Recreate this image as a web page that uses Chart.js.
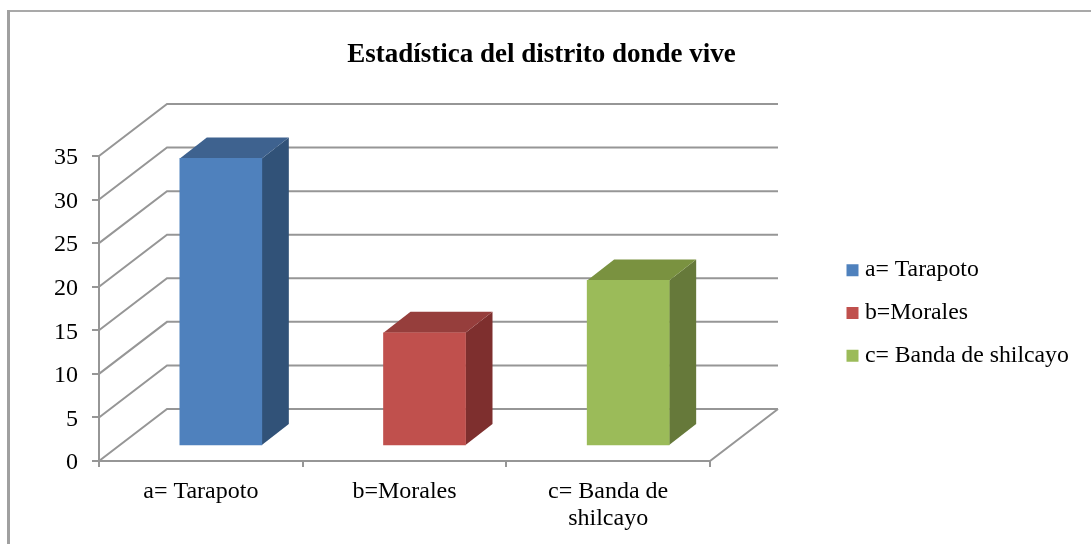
<!DOCTYPE html>
<html>
<head>
<meta charset="utf-8">
<style>
html, body { margin: 0; padding: 0; background: #fff; }
#wrap { position: relative; width: 1091px; height: 544px; }
</style>
<script src="https://cdn.jsdelivr.net/npm/chart.js@4"></script>
</head>
<body>
<div id="wrap"><canvas id="chart" width="1091" height="544"></canvas></div>
<script>
const titleText = "Estadística del distrito donde vive";
const categories = [["a= Tarapoto"], ["b=Morales"], ["c= Banda de", "shilcayo"]];
const legendLabels = ["a= Tarapoto", "b=Morales", "c= Banda de shilcayo"];
const values = [33, 13, 19];
const yTicks = [0, 5, 10, 15, 20, 25, 30, 35];
const frontColors = ["#4F81BD", "#C0504D", "#9BBB59"];
const topColors = ["#3E628F", "#963E3C", "#7A9240"];
const sideColors = ["#315278", "#7E2F2E", "#66793A"];

const gridColor = "#969696";
const serif = "'Liberation Serif', serif";

// pseudo 3d: wall depth and how far the bars sit inside the floor
const wallDx = 68, wallDy = -52;
const barDx = 20, barDy = -15;
const sideDx = 27, sideDy = -21;

const wallPlugin = {
    id: "wall",
    afterLayout(chart) {
        // title and legend do not follow the usual box placement here
        const t = chart.titleBlock;
        t.left = 0; t.right = 1083; t.top = 22; t.bottom = 73;
        const l = chart.legend;
        l.left = 833; l.right = 1091; l.top = 226; l.bottom = 400;
    },
    beforeDatasetsDraw(chart) {
        const ctx = chart.ctx;
        const y = chart.scales.y, x = chart.scales.x;
        const left = x.left, right = x.right;
        ctx.save();
        // frame, only top and left show in the picture
        ctx.strokeStyle = "#8C8C8C";
        ctx.lineWidth = 1.5;
        ctx.beginPath();
        ctx.moveTo(8, 11);
        ctx.lineTo(1091, 11);
        ctx.stroke();
        ctx.strokeStyle = "#A0A0A0";
        ctx.lineWidth = 3;
        ctx.beginPath();
        ctx.moveTo(8.5, 10);
        ctx.lineTo(8.5, 544);
        ctx.stroke();
        ctx.strokeStyle = gridColor;
        ctx.lineWidth = 2;
        yTicks.forEach(v => {
            const py = y.getPixelForValue(v);
            ctx.beginPath();
            ctx.moveTo(left, py);
            ctx.lineTo(left + wallDx, py + wallDy);
            ctx.lineTo(right + wallDx, py + wallDy);
            ctx.stroke();
        });
        // floor
        const y0 = y.getPixelForValue(0);
        ctx.beginPath();
        ctx.moveTo(left, y0);
        ctx.lineTo(right, y0);
        ctx.lineTo(right + wallDx, y0 + wallDy);
        ctx.stroke();
        ctx.restore();
    },
    beforeDatasetDraw(chart, args) {
        const ctx = chart.ctx;
        ctx.save();
        ctx.translate(barDx, barDy);
        args.meta.data.forEach((bar, i) => {
            const hw = bar.width / 2;
            const r = bar.x + hw, l = bar.x - hw;
            ctx.fillStyle = sideColors[i];
            ctx.beginPath();
            ctx.moveTo(r, bar.y);
            ctx.lineTo(r + sideDx, bar.y + sideDy);
            ctx.lineTo(r + sideDx, bar.base + sideDy);
            ctx.lineTo(r, bar.base);
            ctx.closePath();
            ctx.fill();
            ctx.fillStyle = topColors[i];
            ctx.beginPath();
            ctx.moveTo(l, bar.y);
            ctx.lineTo(l + sideDx, bar.y + sideDy);
            ctx.lineTo(r + sideDx, bar.y + sideDy);
            ctx.lineTo(r, bar.y);
            ctx.closePath();
            ctx.fill();
        });
    },
    afterDatasetDraw(chart) {
        chart.ctx.restore();
    }
};

new Chart(document.getElementById("chart"), {
    type: "bar",
    data: {
        labels: categories,
        datasets: [{
            data: values,
            backgroundColor: frontColors,
            borderWidth: 0,
            barThickness: 82,
            clip: false
        }]
    },
    plugins: [wallPlugin],
    options: {
        responsive: false,
        animation: false,
        layout: { padding: { left: 39, right: 381, top: 109, bottom: 4 } },
        scales: {
            x: {
                afterFit: s => { s.height = 79; },
                border: { color: gridColor, width: 2 },
                grid: { drawOnChartArea: false, color: gridColor, lineWidth: 2, tickLength: 6, offset: true },
                ticks: {
                    color: "#000",
                    maxRotation: 0,
                    autoSkip: false,
                    padding: 11,
                    font: { family: serif, size: 24, lineHeight: 1.125 }
                }
            },
            y: {
                min: 0,
                max: 35,
                afterFit: s => { s.width = 60; },
                border: { color: gridColor, width: 2 },
                grid: { drawOnChartArea: false, color: gridColor, lineWidth: 2, tickLength: 7 },
                ticks: {
                    color: "#000",
                    stepSize: 5,
                    padding: 14,
                    labelOffset: 2,
                    font: { family: serif, size: 24 }
                }
            }
        },
        plugins: {
            tooltip: { enabled: false },
            title: {
                display: true,
                text: titleText,
                color: "#000",
                padding: { top: 20, bottom: 0 },
                font: { family: serif, size: 27, weight: "bold", lineHeight: 1 }
            },
            legend: {
                position: "chartArea",
                labels: {
                    usePointStyle: true,
                    boxWidth: 1,
                    boxHeight: 12,
                    padding: 19,
                    color: "#000",
                    font: { family: serif, size: 23.75 },
                    generateLabels: () => legendLabels.map((text, i) => ({
                        text,
                        fillStyle: frontColors[i],
                        strokeStyle: frontColors[i],
                        lineWidth: 0,
                        pointStyle: "rect",
                        hidden: false,
                        index: i
                    }))
                }
            }
        }
    }
});
</script>
</body>
</html>
